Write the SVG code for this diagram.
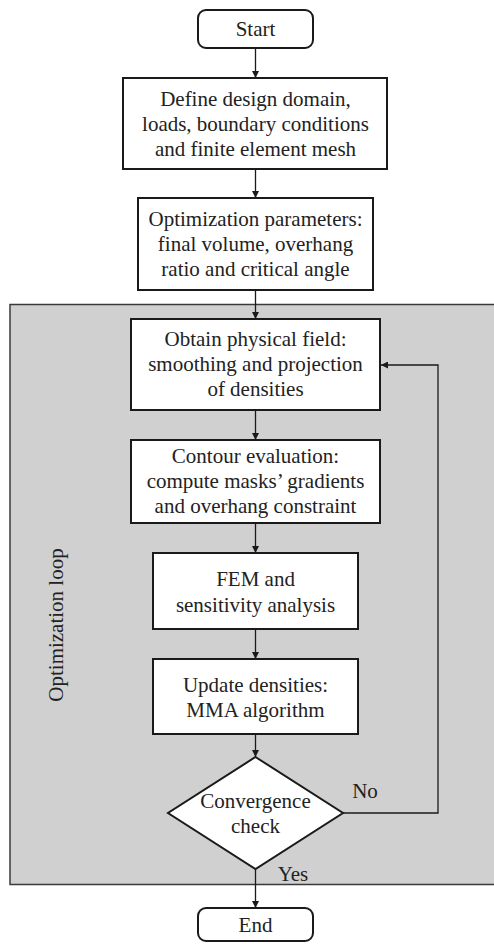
<svg xmlns="http://www.w3.org/2000/svg" width="494" height="944" viewBox="0 0 494 944">
  <style>
    .box { fill: #ffffff; stroke: #1a1a1a; stroke-width: 2; }
    .lbl { font-family: 'Liberation Serif', 'DejaVu Serif', serif; font-size: 21px; fill: #222222; text-anchor: middle; }
    .conn { fill: none; stroke: #1a1a1a; stroke-width: 1.3; }
  </style>
  <defs>
    <marker id="arrow" viewBox="0 0 10 10" refX="10" refY="5" markerWidth="7" markerHeight="7" markerUnits="userSpaceOnUse" orient="auto">
      <path d="M0,0 L10,5 L0,10 z" fill="#1a1a1a"/>
    </marker>
  </defs>

  <rect width="494" height="944" fill="#ffffff"/>

  <!-- optimization loop background -->
  <g id="loop-region">
    <rect x="10" y="304.5" width="500" height="580" fill="#d0d0d0" stroke="#3a3a3a" stroke-width="1.5"/>
    <text class="lbl" font-family="Liberation Serif, serif" transform="translate(63 625) rotate(-90)" font-size="22.5">Optimization loop</text>
  </g>

  <!-- connectors -->
  <g id="connectors">
    <line class="conn" x1="255.5" y1="48" x2="255.5" y2="78" marker-end="url(#arrow)"/>
    <line class="conn" x1="255.5" y1="169" x2="255.5" y2="198" marker-end="url(#arrow)"/>
    <line class="conn" x1="255.5" y1="290" x2="255.5" y2="319" marker-end="url(#arrow)"/>
    <line class="conn" x1="255.5" y1="410" x2="255.5" y2="440" marker-end="url(#arrow)"/>
    <line class="conn" x1="255.5" y1="523" x2="255.5" y2="553" marker-end="url(#arrow)"/>
    <line class="conn" x1="255.5" y1="629" x2="255.5" y2="659" marker-end="url(#arrow)"/>
    <line class="conn" x1="255.5" y1="734" x2="255.5" y2="757" marker-end="url(#arrow)"/>
    <line class="conn" x1="255.5" y1="869" x2="255.5" y2="908" marker-end="url(#arrow)"/>
    <polyline class="conn" points="343,813 438,813 438,365 381,365" marker-end="url(#arrow)"/>
    <text class="lbl" x="365" y="798">No</text>
    <text class="lbl" x="293" y="881">Yes</text>
  </g>

  <g id="start">
    <rect class="box" x="198" y="10" width="115" height="38" rx="8"/>
    <text class="lbl" x="255.5" y="36">Start</text>
  </g>

  <g id="define">
    <rect class="box" x="123" y="78" width="264" height="91"/>
    <text class="lbl" x="255.5" y="106">Define design domain,</text>
    <text class="lbl" x="255.5" y="131">loads, boundary conditions</text>
    <text class="lbl" x="255.5" y="156">and finite element mesh</text>
  </g>

  <g id="parameters">
    <rect class="box" x="138" y="198" width="235" height="92"/>
    <text class="lbl" x="255.5" y="226">Optimization parameters:</text>
    <text class="lbl" x="255.5" y="251">final volume, overhang</text>
    <text class="lbl" x="255.5" y="276">ratio and critical angle</text>
  </g>

  <g id="physical-field">
    <rect class="box" x="131" y="319" width="249" height="91"/>
    <text class="lbl" x="255.5" y="346">Obtain physical field:</text>
    <text class="lbl" x="255.5" y="371">smoothing and projection</text>
    <text class="lbl" x="255.5" y="396">of densities</text>
  </g>

  <g id="contour">
    <rect class="box" x="131" y="440" width="249" height="83"/>
    <text class="lbl" x="255.5" y="463">Contour evaluation:</text>
    <text class="lbl" x="255.5" y="488">compute masks’ gradients</text>
    <text class="lbl" x="255.5" y="513">and overhang constraint</text>
  </g>

  <g id="fem">
    <rect class="box" x="153" y="553" width="205" height="76"/>
    <text class="lbl" x="255.5" y="586">FEM and</text>
    <text class="lbl" x="255.5" y="612">sensitivity analysis</text>
  </g>

  <g id="update">
    <rect class="box" x="153" y="659" width="205" height="75"/>
    <text class="lbl" x="255.5" y="692">Update densities:</text>
    <text class="lbl" x="255.5" y="717">MMA algorithm</text>
  </g>

  <g id="convergence">
    <polygon class="box" points="255.5,757 343,813 255.5,869 168,813"/>
    <text class="lbl" x="255.5" y="808">Convergence</text>
    <text class="lbl" x="255.5" y="833">check</text>
  </g>

  <g id="end">
    <rect class="box" x="198" y="908" width="115" height="33" rx="8"/>
    <text class="lbl" x="255.5" y="932">End</text>
  </g>
</svg>
